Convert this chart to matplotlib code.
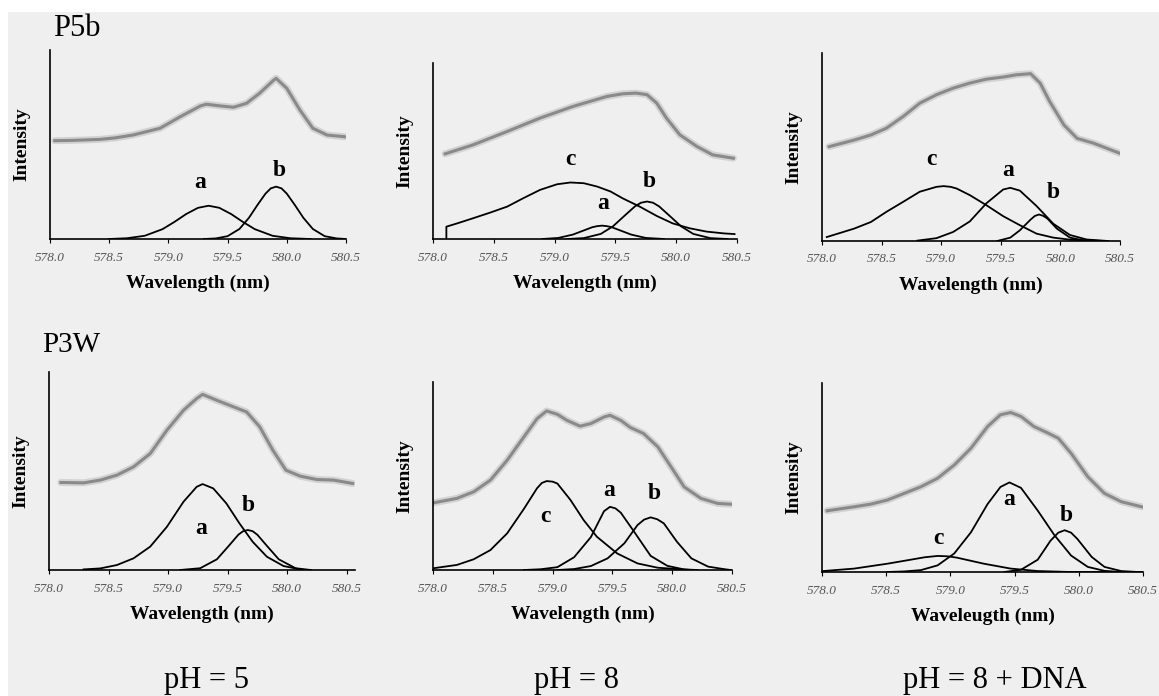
import matplotlib.pyplot as plt
from matplotlib.patches import Rectangle

W, H = 1159, 696
serif = ['Liberation Serif', 'DejaVu Serif']

tick_vals = [578.0, 578.5, 579.0, 579.5, 580.0, 580.5]
tick_labels = ['578.0', '578.5', '579.0', '579.5', '580.0', '580.5']

# ---- P5b, pH = 5 (intensity in % of axis height)
p5b_ph5_x = [578.04, 578.20, 578.42, 578.55, 578.70, 578.93, 579.10, 579.27, 579.32, 579.44,
             579.55, 579.66, 579.77, 579.89, 579.91, 580.00, 580.11, 580.22, 580.34, 580.49]
p5b_ph5_y = [52.0, 52.2, 52.7, 53.5, 55.0, 58.6, 64.7, 70.4, 71.3, 70.4,
             69.7, 71.8, 77.1, 84.1, 85.0, 79.7, 68.3, 58.6, 55.0, 54.1]
p5b_ph5_a_x = [578.50, 578.65, 578.80, 578.95, 579.05, 579.15, 579.25, 579.34, 579.43,
               579.53, 579.63, 579.73, 579.88, 580.03, 580.20]
p5b_ph5_a_y = [0, 0.4, 1.7, 5.2, 9.0, 13.2, 16.5, 17.6, 16.5, 13.2, 9.0, 5.2, 1.7, 0.4, 0]
p5b_ph5_b_x = [579.30, 579.40, 579.50, 579.60, 579.68, 579.75, 579.82, 579.865, 579.91, 579.955,
               580.00, 580.07, 580.14, 580.22, 580.32, 580.42, 580.50]
p5b_ph5_b_y = [0, 0.3, 1.5, 5.3, 11.2, 17.8, 24.0, 26.8, 27.7, 26.8,
               24.0, 17.8, 11.2, 5.3, 1.5, 0.3, 0]

# ---- P5b, pH = 8
p5b_ph8_x = [578.10, 578.33, 578.61, 578.88, 579.15, 579.43, 579.56, 579.67, 579.76, 579.84,
             579.92, 580.03, 580.17, 580.30, 580.47]
p5b_ph8_y = [48.4, 53.5, 61.1, 68.7, 75.3, 81.0, 82.5, 82.9, 82.0, 77.2,
             68.7, 59.2, 52.6, 47.8, 45.9]
p5b_ph8_c_x = [578.11, 578.11, 578.20, 578.33, 578.47, 578.61, 578.74, 578.88, 579.02, 579.13,
               579.24, 579.35, 579.46, 579.56, 579.70, 579.84, 579.97, 580.11, 580.25, 580.39, 580.48]
p5b_ph8_c_y = [0, 7.0, 8.9, 11.8, 15.0, 18.4, 23.1, 27.9, 31.1, 32.1,
               31.7, 29.8, 27.0, 23.1, 18.4, 13.1, 8.9, 6.1, 4.2, 3.2, 2.8]
p5b_ph8_a_x = [578.90, 579.03, 579.15, 579.23, 579.31, 579.35, 579.39, 579.43, 579.47, 579.55,
               579.63, 579.75, 579.90]
p5b_ph8_a_y = [0, 0.6, 2.5, 4.6, 6.7, 7.3, 7.6, 7.3, 6.7, 4.6, 2.5, 0.6, 0]
p5b_ph8_b_x = [579.10, 579.24, 579.38, 579.48, 579.57, 579.66, 579.71, 579.76, 579.81, 579.86,
               579.95, 580.04, 580.14, 580.28, 580.42]
p5b_ph8_b_y = [0, 0.5, 2.9, 7.2, 12.9, 18.5, 20.6, 21.3, 20.6, 18.5,
               12.9, 7.2, 2.9, 0.5, 0]

# ---- P5b, pH = 8 + DNA
p5b_dna_x = [578.06, 578.27, 578.41, 578.54, 578.68, 578.82, 578.96, 579.10, 579.24, 579.38,
             579.52, 579.63, 579.75, 579.83, 579.91, 580.03, 580.14, 580.28, 580.39, 580.50]
p5b_dna_y = [50.2, 53.7, 56.4, 60.0, 66.2, 73.3, 77.8, 81.3, 84.0, 86.1,
             87.2, 88.4, 89.0, 84.0, 74.2, 61.7, 54.6, 52.0, 49.3, 46.6]
p5b_dna_c_x = [578.04, 578.27, 578.41, 578.54, 578.68, 578.82, 578.96, 579.02, 579.08, 579.13,
               579.24, 579.38, 579.52, 579.66, 579.80, 579.94, 580.08, 580.36]
p5b_dna_c_y = [2.1, 6.6, 10.1, 15.5, 20.8, 26.2, 28.8, 29.2, 28.8, 27.9,
               24.4, 19.0, 13.2, 8.4, 3.9, 1.8, 0.7, 0]
p5b_dna_a_x = [578.80, 578.96, 579.10, 579.24, 579.38, 579.52, 579.58, 579.66, 579.80,
               579.94, 580.08, 580.22, 580.40]
p5b_dna_a_y = [0.2, 1.5, 4.8, 10.4, 20.1, 27.4, 28.3, 26.8, 18.6, 9.2, 3.2, 0.8, 0]
p5b_dna_b_x = [579.47, 579.58, 579.66, 579.75, 579.785, 579.82, 579.855, 579.89, 579.97, 580.08, 580.22]
p5b_dna_b_y = [0, 1.8, 5.7, 11.4, 13.3, 14.1, 13.4, 12.0, 6.6, 1.8, 0]

# ---- P3W, pH = 5
p3w_ph5_x = [578.10, 578.29, 578.43, 578.57, 578.71, 578.85, 578.99, 579.13, 579.24, 579.29,
             579.41, 579.55, 579.66, 579.77, 579.88, 579.99, 580.11, 580.25, 580.39, 580.55]
p3w_ph5_y = [44.2, 44.0, 45.4, 47.9, 52.1, 58.8, 70.6, 80.7, 86.6, 88.7,
             85.7, 82.4, 79.8, 72.3, 60.5, 50.4, 47.4, 45.7, 45.4, 43.7]
p3w_ph5_a_x = [578.29, 578.43, 578.57, 578.71, 578.85, 578.99, 579.13, 579.24, 579.29, 579.38,
               579.49, 579.60, 579.71, 579.83, 579.97, 580.11]
p3w_ph5_a_y = [0.3, 0.8, 2.5, 5.9, 11.8, 21.8, 34.5, 42.0, 43.4, 41.2,
               33.6, 23.5, 14.3, 6.7, 2.0, 0.3]
p3w_ph5_b_x = [579.10, 579.27, 579.41, 579.51, 579.59, 579.63, 579.67, 579.71, 579.75, 579.83,
               579.93, 580.07, 580.20]
p3w_ph5_b_y = [0, 0.9, 5.4, 12.2, 17.8, 19.6, 20.2, 19.6, 17.8, 12.2, 5.4, 0.9, 0]

# ---- P3W, pH = 8
p3w_ph8_x = [578.01, 578.20, 578.34, 578.48, 578.62, 578.76, 578.87, 578.95, 579.04, 579.12,
             579.23, 579.32, 579.43, 579.48, 579.57, 579.65, 579.76, 579.88, 579.99, 580.10,
             580.24, 580.38, 580.49]
p3w_ph8_y = [35.8, 38.1, 41.6, 47.8, 58.4, 70.8, 80.5, 84.6, 82.8, 79.6,
             76.5, 77.9, 81.4, 82.3, 79.6, 75.8, 72.6, 65.5, 54.9, 44.2,
             38.1, 35.4, 35.0]
p3w_ph8_c_x = [578.0, 578.20, 578.34, 578.48, 578.62, 578.76, 578.87, 578.91, 578.95, 579.00,
               579.04, 579.15, 579.26, 579.37, 579.54, 579.71, 579.88, 580.16]
p3w_ph8_c_y = [0.9, 2.7, 5.7, 10.6, 19.5, 32.5, 43.5, 46.3, 47.3, 47.0,
               46.0, 37.2, 26.5, 17.7, 8.8, 3.5, 1.2, 0]
p3w_ph8_a_x = [578.76, 578.90, 579.04, 579.18, 579.32, 579.43, 579.48, 579.525, 579.57, 579.68,
               579.82, 579.96, 580.10, 580.21]
p3w_ph8_a_y = [0, 0.4, 1.5, 6.8, 17.5, 31.3, 33.6, 32.8, 30.5, 20.5, 7.5, 2.2, 0.3, 0]
p3w_ph8_b_x = [579.04, 579.18, 579.32, 579.46, 579.60, 579.71, 579.765, 579.82, 579.875, 579.93,
               580.04, 580.16, 580.30, 580.44, 580.49]
p3w_ph8_b_y = [0, 0.5, 2.1, 6.2, 14.2, 23.9, 26.8, 28.0, 27.0, 24.8,
               15.0, 6.2, 1.8, 0.4, 0]

# ---- P3W, pH = 8 + DNA
p3w_dna_x = [578.04, 578.25, 578.38, 578.51, 578.64, 578.77, 578.90, 579.03, 579.16, 579.29,
             579.39, 579.47, 579.55, 579.65, 579.76, 579.84, 579.94, 580.07, 580.20, 580.33, 580.49]
p3w_dna_y = [32.4, 34.5, 35.9, 38.1, 41.6, 45.1, 49.6, 56.6, 65.5, 77.0,
             83.2, 84.4, 82.3, 77.0, 73.5, 70.8, 62.8, 50.4, 41.6, 37.2, 34.5]
p3w_dna_c_x = [578.01, 578.25, 578.51, 578.69, 578.80, 578.90, 578.98, 579.05, 579.26, 579.47,
               579.68, 579.94, 580.50]
p3w_dna_c_y = [0.5, 1.8, 4.4, 6.5, 7.8, 8.5, 8.3, 7.6, 4.4, 1.8, 0.5, 0, 0]
p3w_dna_a_x = [578.51, 578.64, 578.77, 578.90, 579.03, 579.16, 579.29, 579.39, 579.46, 579.55,
               579.68, 579.81, 579.94, 580.07, 580.20, 580.33]
p3w_dna_a_y = [0, 0.3, 1.0, 3.5, 9.8, 21.0, 36.0, 45.0, 47.4, 44.5,
               32.5, 19.5, 8.7, 2.7, 0.6, 0]
p3w_dna_b_x = [579.42, 579.55, 579.68, 579.78, 579.84, 579.89, 579.94, 579.99, 580.10, 580.20,
               580.33, 580.46]
p3w_dna_b_y = [0, 1.2, 6.5, 16.6, 20.8, 22.1, 20.8, 17.4, 8.0, 2.7, 0.5, 0]

# peak letters: (letter, wavelength, height %)
p5b_ph5_labels = [('a', 579.27, 29.8), ('b', 579.94, 36.5)]
p5b_ph8_labels = [('c', 579.13, 45.0), ('a', 579.40, 20.3), ('b', 579.78, 32.6)]
p5b_dna_labels = [('c', 578.92, 43.4), ('a', 579.56, 37.4), ('b', 579.94, 25.6)]
p3w_ph5_labels = [('a', 579.28, 21.0), ('b', 579.67, 32.8)]
p3w_ph8_labels = [('c', 578.94, 28.7), ('a', 579.47, 42.5), ('b', 579.85, 40.7)]
p3w_dna_labels = [('c', 578.91, 17.7), ('a', 579.46, 38.1), ('b', 579.90, 30.1)]

panels = [
    (p5b_ph5_x, p5b_ph5_y, [(p5b_ph5_a_x, p5b_ph5_a_y), (p5b_ph5_b_x, p5b_ph5_b_y)],
     p5b_ph5_labels, 'Wavelength (nm)'),
    (p5b_ph8_x, p5b_ph8_y, [(p5b_ph8_c_x, p5b_ph8_c_y), (p5b_ph8_a_x, p5b_ph8_a_y),
                            (p5b_ph8_b_x, p5b_ph8_b_y)], p5b_ph8_labels, 'Wavelength (nm)'),
    (p5b_dna_x, p5b_dna_y, [(p5b_dna_c_x, p5b_dna_c_y), (p5b_dna_a_x, p5b_dna_a_y),
                            (p5b_dna_b_x, p5b_dna_b_y)], p5b_dna_labels, 'Wavelength (nm)'),
    (p3w_ph5_x, p3w_ph5_y, [(p3w_ph5_a_x, p3w_ph5_a_y), (p3w_ph5_b_x, p3w_ph5_b_y)],
     p3w_ph5_labels, 'Wavelength (nm)'),
    (p3w_ph8_x, p3w_ph8_y, [(p3w_ph8_c_x, p3w_ph8_c_y), (p3w_ph8_a_x, p3w_ph8_a_y),
                            (p3w_ph8_b_x, p3w_ph8_b_y)], p3w_ph8_labels, 'Wavelength (nm)'),
    (p3w_dna_x, p3w_dna_y, [(p3w_dna_c_x, p3w_dna_c_y), (p3w_dna_a_x, p3w_dna_a_y),
                            (p3w_dna_b_x, p3w_dna_b_y)], p3w_dna_labels, 'Waveleugth (nm)'),
]

# axes boxes in pixels: left, right, top, baseline, xmax
boxes = [(50, 346, 50, 239, 580.5), (433, 737, 63, 239, 580.5), (822, 1120, 53, 241, 580.5),
         (49, 355, 372, 570, 580.57), (433, 732, 382, 570, 580.5), (822, 1143, 383, 572, 580.5)]

fig = plt.figure(figsize=(W / 100, H / 100), dpi=100, facecolor='#efefef')

for (mx, my, comps, labels, xl), (l, r, t, b, xmax) in zip(panels, boxes):
    ax = fig.add_axes([l / W, 1 - b / H, (r - l) / W, (b - t) / H])
    ax.patch.set_visible(False)
    ax.set_xlim(578.0, xmax)
    ax.set_ylim(0, 100)
    ax.spines['top'].set_visible(False)
    ax.spines['right'].set_visible(False)
    ax.spines['left'].set_linewidth(1.2)
    ax.spines['bottom'].set_linewidth(1.2)

    ax.plot(mx, my, color='#d2d2d2', lw=5, solid_capstyle='round')
    ax.plot(mx, my, color='#8a8a8a', lw=2.2)
    for cx, cy in comps:
        ax.plot(cx, cy, color='black', lw=1.3)

    for letter, lx, ly in labels:
        ax.text(lx, ly, letter, ha='center', va='center', family=serif,
                weight='bold', fontsize=17)

    ax.set_xticks(tick_vals)
    ax.set_xticklabels(tick_labels, family=serif, style='italic', fontsize=9.5, color='#555555')
    ax.tick_params(axis='x', direction='out', length=3, width=0.8, pad=6)
    ax.tick_params(axis='y', left=False, labelleft=False)
    ax.set_xlabel(xl, family=serif, weight='bold', fontsize=14, labelpad=8)
    ax.set_ylabel('Intensity', family=serif, weight='bold', fontsize=14, labelpad=14)

fig.text(53 / W, 1 - 36 / H, 'P5b', family=serif, fontsize=22, va='baseline')
fig.text(42 / W, 1 - 352 / H, 'P3W', family=serif, fontsize=21, va='baseline')
fig.text(207 / W, 1 - 688 / H, 'pH = 5', family=serif, fontsize=22, ha='center', va='baseline')
fig.text(576 / W, 1 - 688 / H, 'pH = 8', family=serif, fontsize=22, ha='center', va='baseline')
fig.text(995 / W, 1 - 688 / H, 'pH = 8 + DNA', family=serif, fontsize=22, ha='center', va='baseline')

# white margin along the top and left edge of the scan
fig.add_artist(Rectangle((0, 1 - 12 / H), 1, 12 / H, transform=fig.transFigure,
                         facecolor='white', edgecolor='none', zorder=20))
fig.add_artist(Rectangle((0, 0), 8 / W, 1, transform=fig.transFigure,
                         facecolor='white', edgecolor='none', zorder=20))

fig.savefig('out.png', dpi=100, facecolor=fig.get_facecolor())
